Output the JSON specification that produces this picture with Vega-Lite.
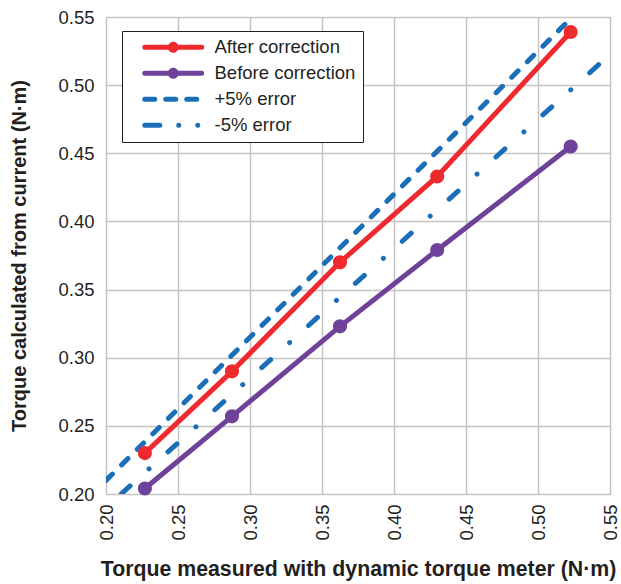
{
  "$schema": "https://vega.github.io/schema/vega-lite/v6.json",
  "width": 504,
  "height": 477,
  "autosize": {"type": "none"},
  "padding": {"left": 106, "top": 17, "right": 11, "bottom": 90},
  "background": "white",
  "config": {
    "view": {"stroke": "#4d4d4d", "strokeWidth": 1},
    "font": "Liberation Sans",
    "axis": {
      "labelFont": "Liberation Sans",
      "labelFontSize": 18.5,
      "labelColor": "#231f20",
      "titleFont": "Liberation Sans",
      "titleFontWeight": "bold",
      "titleColor": "#231f20",
      "gridColor": "#c4c4c4",
      "gridWidth": 1.5,
      "domain": false,
      "ticks": false
    }
  },
  "data": {
    "values": [
      {"series": "+5% error", "x": 0.2, "y": 0.21},
      {"series": "+5% error", "x": 0.5238, "y": 0.55},
      {"series": "-5% error", "x": 0.2105, "y": 0.2},
      {"series": "-5% error", "x": 0.55, "y": 0.5225},
      {"series": "After correction", "x": 0.227, "y": 0.230},
      {"series": "After correction", "x": 0.2875, "y": 0.290},
      {"series": "After correction", "x": 0.3625, "y": 0.370},
      {"series": "After correction", "x": 0.43, "y": 0.433},
      {"series": "After correction", "x": 0.5227, "y": 0.539},
      {"series": "Before correction", "x": 0.227, "y": 0.204},
      {"series": "Before correction", "x": 0.2875, "y": 0.257},
      {"series": "Before correction", "x": 0.3625, "y": 0.323},
      {"series": "Before correction", "x": 0.43, "y": 0.379},
      {"series": "Before correction", "x": 0.5227, "y": 0.455}
    ]
  },
  "encoding": {
    "x": {
      "field": "x", "type": "quantitative",
      "scale": {"domain": [0.2, 0.55], "nice": false, "zero": false},
      "axis": {
        "title": "Torque measured with dynamic torque meter (N·m)",
        "titleFontSize": 21.3,
        "values": [0.2, 0.25, 0.3, 0.35, 0.4, 0.45, 0.5, 0.55],
        "format": ".2f",
        "labelAngle": 270,
        "labelAlign": "right",
        "labelBaseline": "middle",
        "labelPadding": 10,
        "titlePadding": 18
      }
    },
    "y": {
      "field": "y", "type": "quantitative",
      "scale": {"domain": [0.2, 0.55], "nice": false, "zero": false},
      "axis": {
        "title": "Torque calculated from current (N·m)",
        "titleFontSize": 20,
        "values": [0.2, 0.25, 0.3, 0.35, 0.4, 0.45, 0.5, 0.55],
        "format": ".2f",
        "labelPadding": 12,
        "titlePadding": 28
      }
    },
    "color": {
      "field": "series", "type": "nominal",
      "scale": {
        "domain": ["After correction", "Before correction", "+5% error", "-5% error"],
        "range": ["#ee2a2e", "#6f429a", "#1b6fb8", "#1b6fb8"]
      },
      "legend": {
        "title": null,
        "orient": "none",
        "legendX": 16,
        "legendY": 14,
        "direction": "vertical",
        "fillColor": "white",
        "strokeColor": "#231f20",
        "padding": 7,
        "rowPadding": 7,
        "symbolSize": 100,
        "symbolOffset": 35,
        "labelOffset": 32,
        "labelFont": "Liberation Sans",
        "labelFontSize": 18.5,
        "labelColor": "#231f20",
        "labelLimit": 300,
        "encode": {
          "symbols": {
            "update": {
              "shape": {"signal": "(datum.value === 'After correction' || datum.value === 'Before correction') ? 'M-5.7,0H5.7M0.6,0L0.52,0.3L0.3,0.52L0,0.6L-0.3,0.52L-0.52,0.3L-0.6,0L-0.52,-0.3L-0.3,-0.52L0,-0.6L0.3,-0.52L0.52,-0.3Z' : 'M-5.7,0H5.7'"},
              "fill": {"signal": "datum.value === 'After correction' ? '#ee2a2e' : datum.value === 'Before correction' ? '#6f429a' : 'transparent'"},
              "stroke": {"signal": "datum.value === 'After correction' ? '#ee2a2e' : datum.value === 'Before correction' ? '#6f429a' : '#1b6fb8'"},
              "strokeDash": {"signal": "datum.value === '+5% error' ? [10, 11] : datum.value === '-5% error' ? [15, 19, 0.01, 19, 0.01, 40] : [1, 0]"},
              "strokeWidth": {"value": 5},
              "strokeCap": {"value": "round"},
              "strokeJoin": {"value": "round"},
              "size": {"value": 100},
              "opacity": {"value": 1}
            }
          }
        }
      }
    }
  },
  "layer": [
    {
      "transform": [{"filter": "datum.series === '+5% error' || datum.series === '-5% error'"}],
      "mark": {"type": "line", "strokeWidth": 5, "strokeCap": "round", "clip": true},
      "encoding": {
        "strokeDash": {
          "field": "series", "type": "nominal",
          "scale": {"domain": ["+5% error", "-5% error"], "range": [[9, 13], [12, 25.5, 0.01, 25.5]]},
          "legend": null
        }
      }
    },
    {
      "transform": [{"filter": "datum.series === 'After correction' || datum.series === 'Before correction'"}],
      "mark": {"type": "line", "strokeWidth": 5, "clip": true}
    },
    {
      "transform": [{"filter": "datum.series === 'After correction' || datum.series === 'Before correction'"}],
      "mark": {"type": "point", "filled": true, "opacity": 1, "size": 200, "shape": "circle"}
    }
  ]
}
